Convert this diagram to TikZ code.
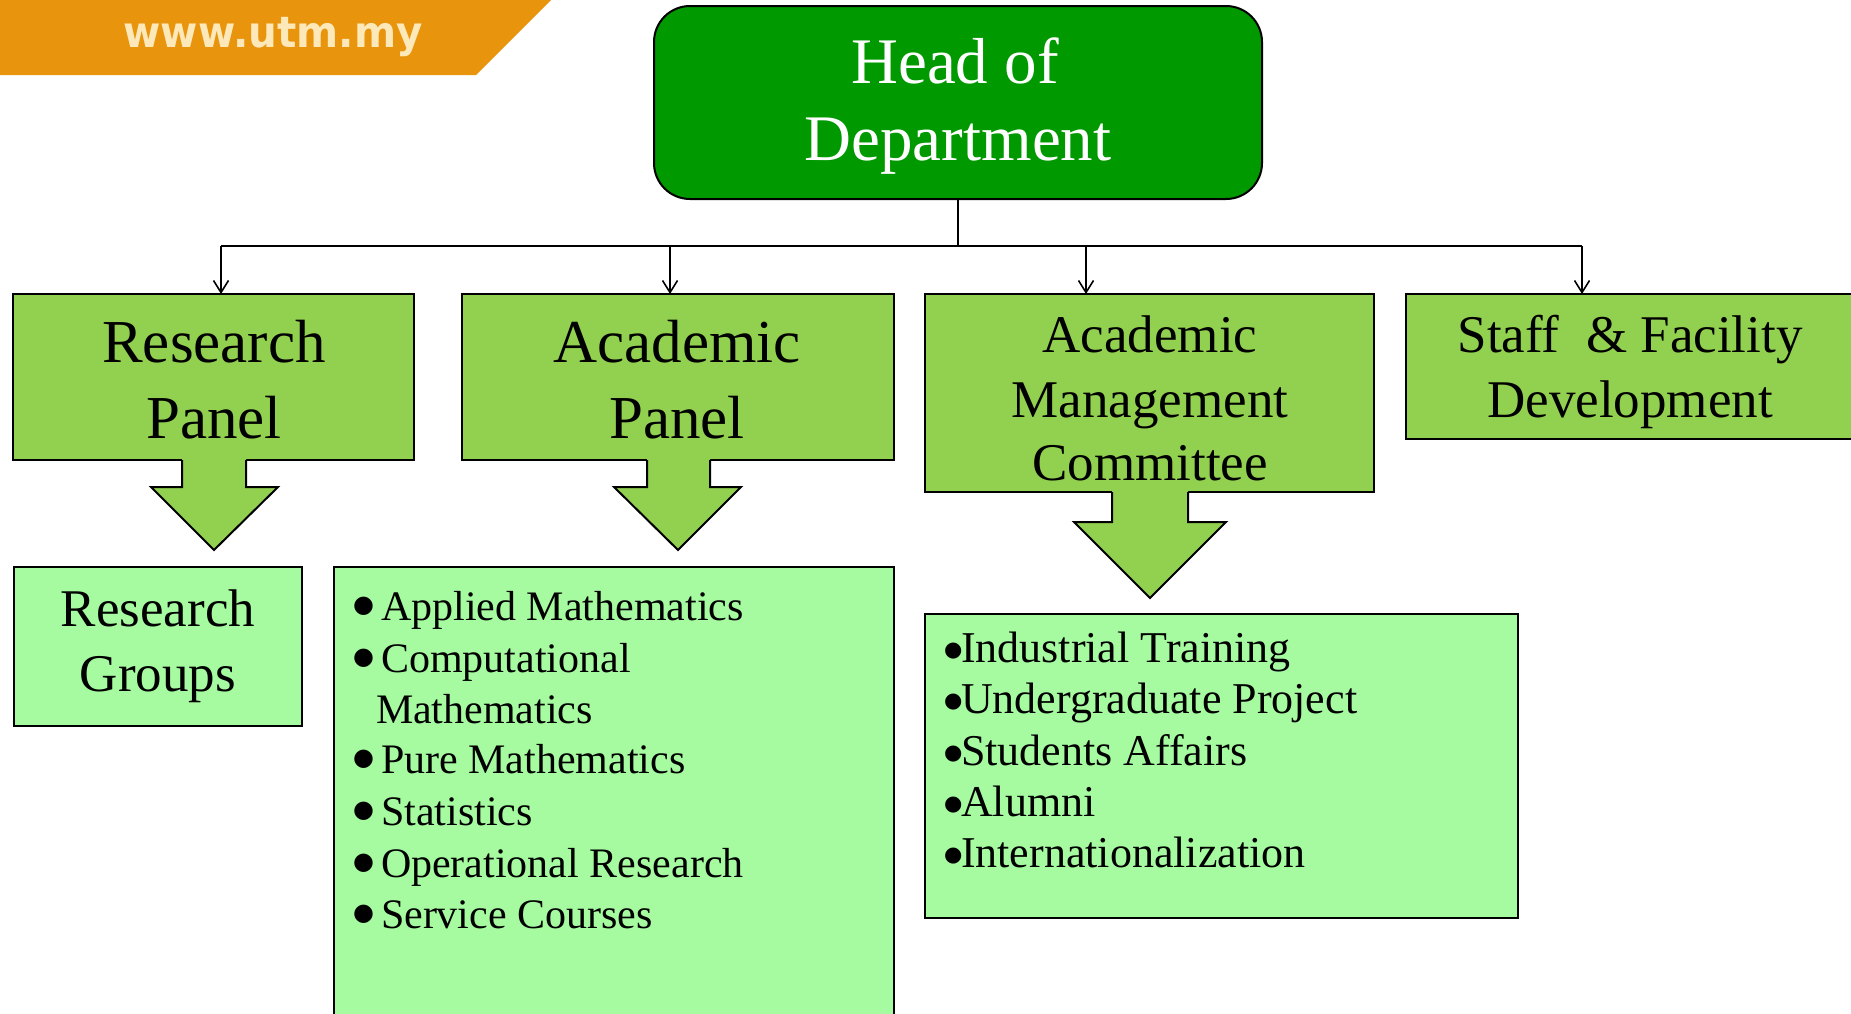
\documentclass[tikz,border=0pt]{standalone}
\usepackage{fontspec}
\setmainfont{Liberation Serif}
\newfontfamily\bannerfont[FakeStretch=0.94]{DejaVu Sans}
\newfontfamily\symfont{DejaVu Sans}
\usetikzlibrary{arrows.meta}
\definecolor{hodgreen}{RGB}{0,153,0}
\definecolor{panelgreen}{RGB}{146,208,80}
\definecolor{listgreen}{RGB}{166,251,160}
\definecolor{bannerorange}{RGB}{232,148,12}
\definecolor{bannertext}{RGB}{252,232,184}
\newcommand\bigdownarrow[8]{%
  % #1 shaft left, #2 shaft right, #3 head left, #4 head right, #5 tip x, #6 top y, #7 step y, #8 tip y
  \fill[panelgreen] (#1,#6-5) -- (#1,#7) -- (#3,#7) -- (#5,#8) -- (#4,#7) -- (#2,#7) -- (#2,#6-5) -- cycle;
  \draw[line width=2pt, line join=miter] (#1,#6) -- (#1,#7) -- (#3,#7) -- (#5,#8) -- (#4,#7) -- (#2,#7) -- (#2,#6);
}
\newcommand\bigbulA{\makebox[28pt][l]{\raisebox{7.5pt}{\symfont\fontsize{24}{24}\selectfont ●}}}
\newcommand\bigbulB{\makebox[17pt][l]{\raisebox{5.5pt}{\symfont\fontsize{21}{21}\selectfont ●}}}
\begin{document}
\begin{tikzpicture}[x=1pt,y=-1pt,
  boxstyle/.style={draw=black, line width=2pt, inner sep=0pt, outer sep=0pt, anchor=north west},
  hodbox/.style={boxstyle, fill=hodgreen, rounded corners=36pt},
  panel/.style={boxstyle, fill=panelgreen},
  listbox/.style={boxstyle, fill=listgreen},
  txt/.style={inner sep=0pt, outer sep=0pt, anchor=base},
  hodtxt/.style={txt, text=white, font=\fontsize{65}{75}\selectfont},
  paneltxt/.style={txt, font=\fontsize{61}{70}\selectfont},
  midtxt/.style={txt, font=\fontsize{53}{62}\selectfont},
  listA/.style={inner sep=0pt, outer sep=0pt, anchor=base west, font=\fontsize{42}{50}\selectfont},
  listB/.style={inner sep=0pt, outer sep=0pt, anchor=base west, font=\fontsize{44}{50}\selectfont},
  conn/.style={line width=1.6pt},
  arr/.style={conn, -{Straight Barb[length=12pt,width=15pt,line width=1.6pt]}}
]
\useasboundingbox (0,0) rectangle (1851,1013);
\clip (0,0) rectangle (1851,1013);

% banner
\fill[bannerorange] (0,0) -- (551,0) -- (476,75) -- (0,75) -- cycle;
\node[txt, text=bannertext, font=\bannerfont\bfseries\fontsize{43}{50}\selectfont] (banner) at (273,47) {www.utm.my};

% head of department
\node[hodbox, minimum width=608pt, minimum height=193pt] (hod) at (654,6) {};
\node[hodtxt] (hod1) at (955,83) {Head of};
\node[hodtxt] (hod2) at (958,160) {Department};

% level 2 boxes
\node[panel, minimum width=401pt, minimum height=166pt] (rp) at (13,294) {};
\node[panel, minimum width=432pt, minimum height=166pt] (ap) at (462,294) {};
\node[panel, minimum width=449pt, minimum height=198pt] (amc) at (925,294) {};
\node[panel, minimum width=470pt, minimum height=145pt] (sfd) at (1406,294) {};

% level 3 boxes
\node[listbox, minimum width=288pt, minimum height=159pt] (rg) at (14,567) {};
\node[listbox, minimum width=560pt, minimum height=470pt] (al) at (334,567) {};
\node[listbox, minimum width=593pt, minimum height=304pt] (aml) at (925,614) {};

% block arrows
\bigdownarrow{182}{246}{151}{278}{214}{460}{487}{550}
\bigdownarrow{647}{710}{614}{741}{678}{460}{487}{550}
\bigdownarrow{1112}{1188}{1074}{1226}{1150}{492}{522}{598}

% connectors
\coordinate (bus) at (958,246);
\coordinate (b1) at (221,246);
\coordinate (b2) at (670,246);
\coordinate (b3) at (1086,246);
\coordinate (b4) at (1582,246);
\draw[conn] (hod.south) -- (bus);
\draw[conn] (b1) -- (b4);
\draw[arr] (b1) -- (b1 |- rp.north);
\draw[arr] (b2) -- (b2 |- ap.north);
\draw[arr] (b3) -- (b3 |- amc.north);
\draw[arr] (b4) -- (b4 |- sfd.north);

% panel texts
\node[paneltxt] (rp1) at (214,362) {Research};
\node[paneltxt] (rp2) at (214,438) {Panel};
\node[paneltxt] (ap1) at (677,362) {Academic};
\node[paneltxt] (ap2) at (677,438) {Panel};
\node[midtxt] (amc1) at (1150,352) {Academic};
\node[midtxt] (amc2) at (1150,417) {Management};
\node[midtxt] (amc3) at (1150,480) {Committee};
\node[midtxt] (sfd1) at (1630,352) {Staff~ \& Facility};
\node[midtxt] (sfd2) at (1630,417) {Development};
\node[midtxt] (rg1) at (158,626) {Research};
\node[midtxt] (rg2) at (158,691) {Groups};

% academic list
\node[listA] (al1) at (353,620) {\bigbulA Applied Mathematics};
\node[listA] (al2) at (353,672) {\bigbulA Computational};
\node[listA] (al3) at (376,723) {Mathematics};
\node[listA] (al4) at (353,773) {\bigbulA Pure Mathematics};
\node[listA] (al5) at (353,825) {\bigbulA Statistics};
\node[listA] (al6) at (353,877) {\bigbulA Operational Research};
\node[listA] (al7) at (353,928) {\bigbulA Service Courses};

% academic management list
\node[listB] (am1) at (944,662) {\bigbulB Industrial Training};
\node[listB] (am2) at (944,713) {\bigbulB Undergraduate Project};
\node[listB] (am3) at (944,765) {\bigbulB Students Affairs};
\node[listB] (am4) at (944,816) {\bigbulB Alumni};
\node[listB] (am5) at (944,867) {\bigbulB Internationalization};
\end{tikzpicture}
\end{document}
